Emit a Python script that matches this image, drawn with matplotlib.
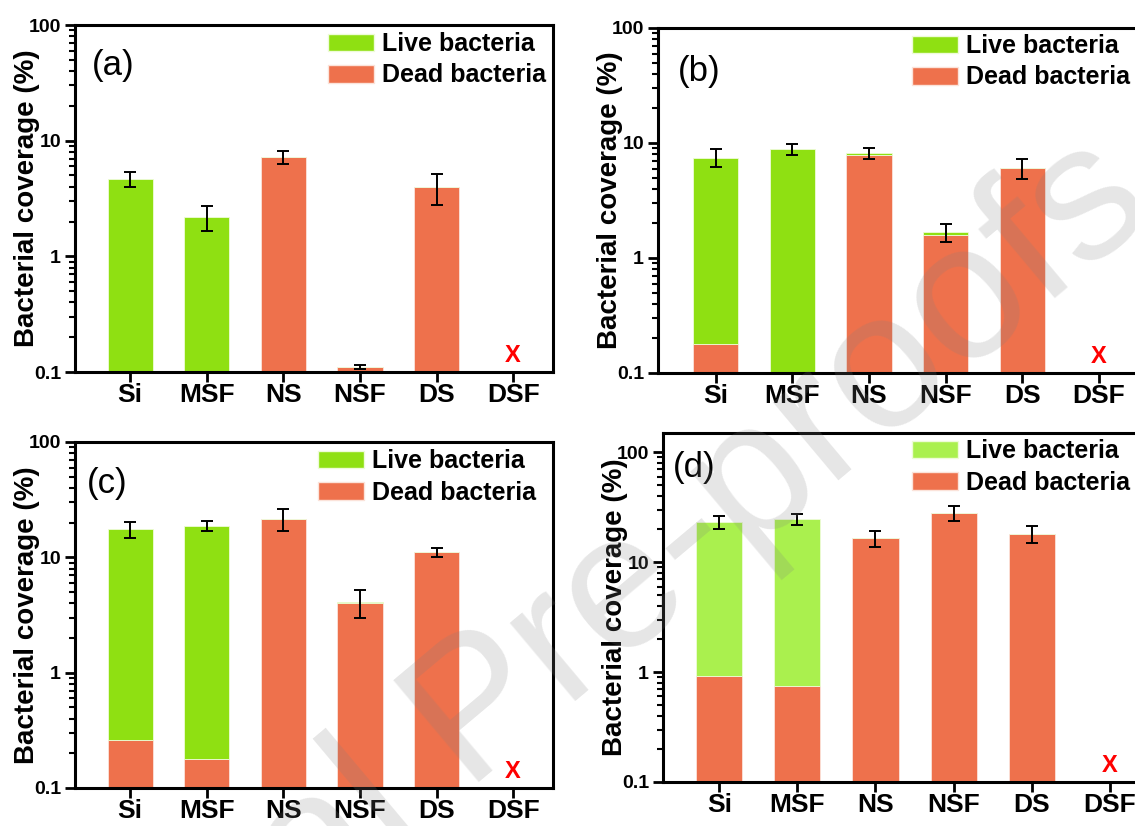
import matplotlib
matplotlib.use("Agg")
import matplotlib.pyplot as plt
from matplotlib.ticker import FixedLocator, LogLocator, FuncFormatter, NullFormatter
from matplotlib.patches import Patch
import numpy as np

plt.rcParams["font.family"] = ["Liberation Sans", "DejaVu Sans"]

categories = ["Si", "MSF", "NS", "NSF", "DS", "DSF"]

# panel (a)
live_a = [4.7, 2.2, 0, 0, 0, 0]
dead_a = [0, 0, 7.2, 0.111, 4.0, 0]
err_a = [0.7, 0.55, 0.9, 0.004, 1.2, 0]
# panel (b)
live_b = [7.3, 8.8, 0.3, 0.11, 0, 0]
dead_b = [0.18, 0, 7.9, 1.58, 6.05, 0]
err_b = [1.3, 1.0, 0.9, 0.3, 1.2, 0]
# panel (c)
live_c = [17.3, 18.6, 0, 0.1, 0, 0]
dead_c = [0.26, 0.178, 21.5, 4.0, 11.1, 0]
err_c = [2.8, 1.9, 4.6, 1.1, 1.0, 0]
# panel (d)
live_d = [22.2, 24.0, 0, 0, 0, 0]
dead_d = [0.93, 0.75, 16.6, 28.1, 18.1, 0]
err_d = [3.2, 3.0, 2.8, 4.6, 3.2, 0]

GREEN = "#8fe012"
GREEN_D = "#aaf04e"
ORANGE = "#ee714c"

W, H = 1135, 826
fig = plt.figure(figsize=(W / 100, H / 100), dpi=100)


def px_axes(left, top, right, bottom):
    ax = fig.add_axes([left / W, 1 - bottom / H, (right - left) / W, (bottom - top) / H])
    ax._px_width = right - left
    return ax


def panel(ax, label, label_pos, live, dead, err, green, xlim, leg_anchor, ytop=100):
    x = np.arange(len(categories))
    live = np.array(live, dtype=float)
    dead = np.array(dead, dtype=float)
    total = live + dead
    ax.bar(x, dead, width=0.59, color=ORANGE, edgecolor="#fbe3da", linewidth=0.6, zorder=2)
    ax.bar(x, live, bottom=dead, width=0.59, color=green, edgecolor="#eefbd8", linewidth=0.6, zorder=2)
    has = total > 0
    ax.errorbar(x[has], total[has], yerr=np.array(err)[has], fmt="none", ecolor="black",
                elinewidth=1.4, capsize=4.5, capthick=1.4, zorder=3)
    ax.text(x[-1], 0.14, "X", color="red", fontsize=17, fontweight="bold",
            ha="center", va="center", zorder=4)

    ax.set_yscale("log")
    ax.set_ylim(0.1, ytop)
    ax.set_xlim(*xlim)
    ax.yaxis.set_major_locator(FixedLocator([0.1, 1, 10, 100]))
    ax.yaxis.set_major_formatter(FuncFormatter(lambda v, p: "%g" % v))
    ax.yaxis.set_minor_locator(LogLocator(base=10, subs=np.arange(2, 10)))
    ax.yaxis.set_minor_formatter(NullFormatter())
    ax.set_xticks(x)
    ax.set_xticklabels(categories, fontsize=19, fontweight="bold")
    for t in ax.get_yticklabels():
        t.set_fontsize(14)
        t.set_fontweight("bold")
    ax.tick_params(axis="both", which="major", direction="out", length=7, width=2)
    ax.tick_params(axis="y", which="minor", direction="out", length=4, width=1.5)
    ax.tick_params(axis="y", which="major", pad=3)
    ax.tick_params(axis="x", which="major", pad=1)
    for s in ax.spines.values():
        s.set_linewidth(2.2)
    ax.set_ylabel("Bacterial coverage (%)", fontsize=20, fontweight="bold")
    ax.yaxis.set_label_coords(-35 / ax._px_width, 0.5)

    ax.text(label_pos[0], label_pos[1], label, transform=ax.transAxes, fontsize=25,
            ha="left", va="center")
    handles = [Patch(facecolor=green, edgecolor="#eefbd8", label="Live bacteria"),
               Patch(facecolor=ORANGE, edgecolor="#fbe3da", label="Dead bacteria")]
    ax.legend(handles=handles, loc="upper left", frameon=False,
              bbox_to_anchor=(leg_anchor[0] / W, 1 - leg_anchor[1] / H),
              bbox_transform=fig.transFigure, borderpad=0, borderaxespad=0,
              prop={"size": 18, "weight": "bold"}, handlelength=1.85, handleheight=0.7,
              handletextpad=0.3, labelspacing=0.3)
    return ax


ax_a = px_axes(75, 25, 553, 372)
panel(ax_a, "(a)", (0.035, 0.882), live_a, dead_a, err_a, GREEN, (-0.72, 5.52), (328, 32))

ax_b = px_axes(658, 28, 1145, 373)
panel(ax_b, "(b)", (0.04, 0.875), live_b, dead_b, err_b, GREEN, (-0.75, 5.6), (912, 34))

ax_c = px_axes(75, 442, 553, 788)
panel(ax_c, "(c)", (0.025, 0.88), live_c, dead_c, err_c, GREEN, (-0.72, 5.52), (318, 449))

ax_d = px_axes(663, 433, 1145, 782)
panel(ax_d, "(d)", (0.02, 0.9), live_d, dead_d, err_d, GREEN_D, (-0.72, 5.45), (912, 439),
      ytop=150)

# watermark
fig.text(517 / W, 1 - 685 / H, "Journal Pre-proofs", fontsize=139, color="#808080", alpha=0.2,
         rotation=40, ha="center", va="center", rotation_mode="anchor", zorder=10)

fig.savefig("out.png", dpi=100)
